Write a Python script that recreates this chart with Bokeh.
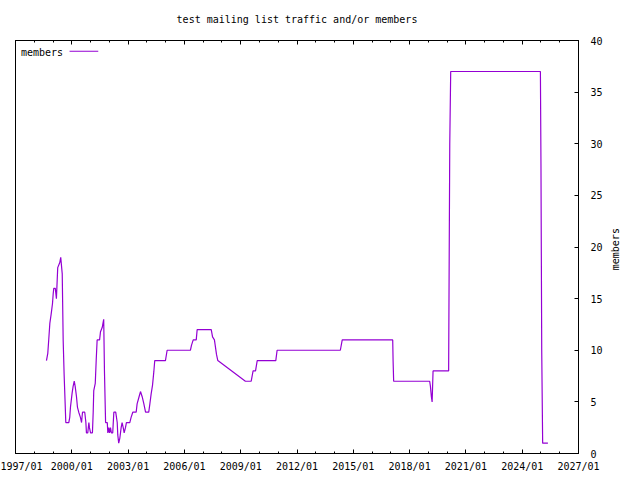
import math
from bokeh.plotting import figure
from bokeh.layouts import row
from bokeh.models import LinearAxis, FixedTicker, Range1d, Label, Arrow, CustomLabelingPolicy
from bokeh.embed import file_html
from bokeh.resources import INLINE

title_text = "test mailing list traffic and/or members"
series_name = "members"

# time in decimal years
years = [
    1998.65, 1998.72, 1998.77, 1998.83, 1998.90, 1998.97, 1999.01, 1999.04, 1999.12, 1999.18,
    1999.25, 1999.36, 1999.41, 1999.49, 1999.54, 1999.59, 1999.65, 1999.68, 1999.84, 1999.89,
    1999.93, 2000.02, 2000.07, 2000.13, 2000.18, 2000.25, 2000.30, 2000.37, 2000.46, 2000.52,
    2000.57, 2000.69, 2000.75, 2000.78, 2000.85, 2000.91, 2000.94, 2001.00, 2001.10, 2001.14,
    2001.17, 2001.25, 2001.30, 2001.35, 2001.48, 2001.53, 2001.62, 2001.67, 2001.70, 2001.74,
    2001.80, 2001.89, 2001.92, 2001.97, 2002.01, 2002.06, 2002.11, 2002.18, 2002.24, 2002.34,
    2002.42, 2002.45, 2002.50, 2002.56, 2002.63, 2002.68, 2002.74, 2002.79, 2002.86, 2002.91,
    2003.09, 2003.16, 2003.25, 2003.43, 2003.48, 2003.57, 2003.66, 2003.75, 2003.84, 2003.93,
    2004.10, 2004.16, 2004.23, 2004.30, 2004.37, 2004.42, 2004.99, 2005.08, 2006.32, 2006.38,
    2006.47, 2006.63, 2006.68, 2007.43, 2007.50, 2007.60, 2007.71, 2007.78, 2009.25, 2009.56,
    2009.66, 2009.79, 2009.88, 2010.87, 2010.94, 2014.31, 2014.41, 2017.10, 2017.12, 2017.15,
    2019.07, 2019.11, 2019.16, 2019.20, 2019.25, 2020.08, 2020.14, 2020.19, 2024.97, 2025.00,
    2025.04, 2025.09, 2025.37,
]
members = [
    9, 9.7, 11, 12.6, 13.5, 14.5, 15.5, 16, 16, 15,
    18, 18.5, 19, 17.4, 11, 7.7, 4.6, 3, 3, 3.5,
    4.5, 5.9, 6.5, 7, 6.5, 5.5, 4.5, 4, 3.5, 3,
    4, 4, 3, 2, 2, 3, 2.5, 2, 2, 4,
    6.1, 6.8, 9, 11, 11, 11.8, 12.2, 12.7, 13, 8,
    3, 3, 2, 2.5, 2, 2.5, 2, 2, 4, 4,
    3, 1.8, 1, 1.5, 2.5, 3, 2.5, 2, 2.5, 3,
    3, 3.5, 4, 4, 4.8, 5.4, 6, 5.5, 4.8, 4,
    4, 4.8, 5.8, 6.6, 7.9, 9, 9, 10, 10, 10.5,
    11, 11, 12, 12, 11.3, 11, 9.6, 9, 7, 7,
    8, 8, 9, 9, 10, 10, 11, 11, 9, 7,
    7, 6.5, 5.5, 5, 8, 8, 30, 37, 37, 28,
    10, 1, 1,
]

x_tick_years = list(range(1997, 2028, 3))
x_tick_labels = ["%d/01" % y for y in x_tick_years]
x_minor_years = list(range(1997, 2028))
y_ticks = list(range(0, 41, 5))

FONT = "DejaVu Sans Mono"
FS = "10px"
LINE_COLOR = "#9400D3"

# layout sizes (px)
BL, BT, FW, FH, BR, BB = 15, 40, 563, 413, 27, 22
TOTAL_H = BT + FH + BB
SIDE_W = 30

p = figure(frame_width=FW, frame_height=FH,
           min_border_left=BL, min_border_top=BT, min_border_right=BR, min_border_bottom=BB,
           x_range=Range1d(1997, 2027), y_range=Range1d(0, 40),
           x_axis_location=None, y_axis_location=None,
           output_backend="svg", toolbar_location=None, tools="")
p.grid.visible = False
p.outline_line_color = "black"
p.outline_line_width = 1
p.background_fill_color = "white"
p.border_fill_color = "white"

p.title.text = title_text
p.title.align = "center"
p.title.text_font = FONT
p.title.text_font_size = FS
p.title.text_font_style = "normal"
p.title.text_color = "black"

ticker_x = FixedTicker(ticks=x_tick_years, minor_ticks=x_minor_years)
xb = LinearAxis(ticker=ticker_x,
                major_label_overrides={y: l for y, l in zip(x_tick_years, x_tick_labels)},
                major_tick_in=4, major_tick_out=0, minor_tick_in=2, minor_tick_out=0,
                axis_line_color="black", major_label_standoff=7,
                major_label_text_font=FONT, major_label_text_font_size=FS,
                major_label_text_color="black")
p.add_layout(xb, "below")

no_labels = CustomLabelingPolicy(code="""
    for (let i = 0; i < indices.size; i++) { indices.unset(i) }
    return indices
""")
xt = LinearAxis(ticker=ticker_x,
                major_tick_in=4, major_tick_out=0, minor_tick_in=2, minor_tick_out=0,
                axis_line_color="black", major_label_standoff=0,
                major_label_policy=no_labels,
                major_label_text_font=FONT, major_label_text_font_size=FS)
p.add_layout(xt, "above")

yr = LinearAxis(ticker=FixedTicker(ticks=y_ticks),
                major_tick_in=4, major_tick_out=0, minor_tick_in=0, minor_tick_out=0,
                axis_line_color="black", major_label_standoff=12,
                major_label_text_font=FONT, major_label_text_font_size=FS,
                major_label_text_color="black")
p.add_layout(yr, "right")

p.line(years, members, line_color=LINE_COLOR, line_width=1.2)

# legend (text first, then line sample, as in the original)
p.add_layout(Label(x=1997.29, y=38.8, text=series_name, text_font=FONT,
                   text_font_size=FS, text_baseline="middle", text_color="black"))
p.add_layout(Arrow(x_start=1999.88, y_start=38.96, x_end=2001.41, y_end=38.96,
                   end=None, line_color=LINE_COLOR, line_width=1.2))

# narrow side strip holding the y axis title, reading bottom-to-top
side = figure(width=SIDE_W, height=TOTAL_H, min_border=0,
              x_range=Range1d(0, SIDE_W), y_range=Range1d(0, TOTAL_H),
              x_axis_location=None, y_axis_location=None,
              output_backend="svg", toolbar_location=None, tools="")
side.grid.visible = False
side.outline_line_color = None
side.background_fill_color = "white"
side.border_fill_color = "white"
side.add_layout(Label(x=10, y=TOTAL_H - 240, text=series_name, angle=math.pi / 2,
                      text_align="center", text_baseline="middle", text_font=FONT,
                      text_font_size=FS, text_color="black"))

layout = row(p, side, spacing=0)
open("out.html", "w").write(file_html(layout, INLINE))
